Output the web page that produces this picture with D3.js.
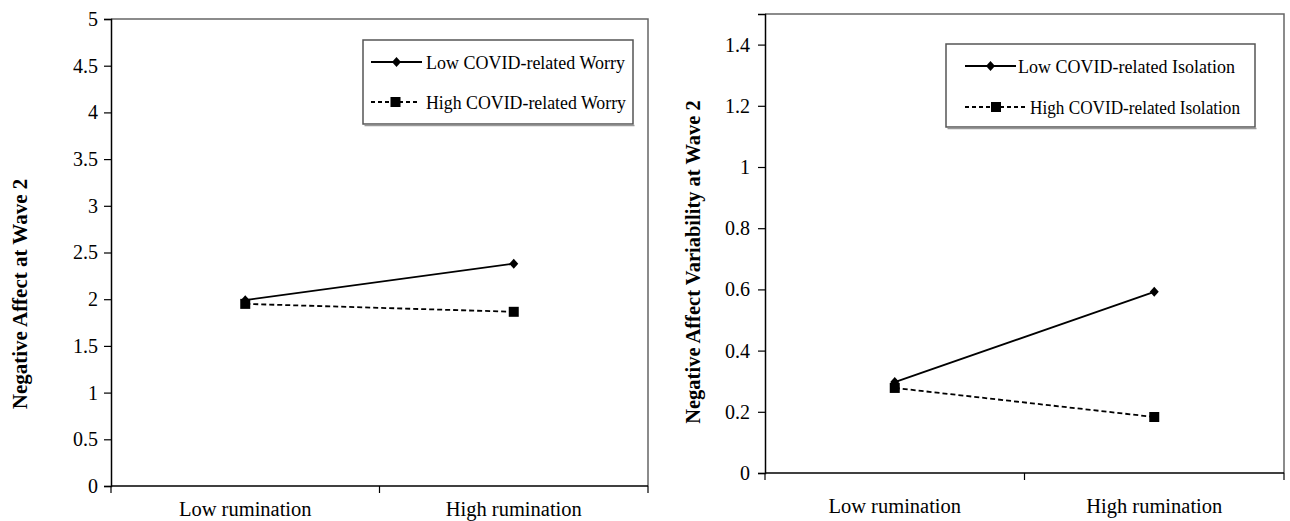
<!DOCTYPE html>
<html><head><meta charset="utf-8">
<script src="https://cdn.jsdelivr.net/npm/d3@7"></script>
<style>
html,body{margin:0;padding:0;background:#fff;}
svg{display:block;font-family:"Liberation Serif","Times New Roman",serif;}
</style></head>
<body>
<svg id="c" width="1290" height="521"></svg>
<script>
const categories = ["Low rumination", "High rumination"];
// Left panel: Negative Affect at Wave 2
const worryLow = [1.99, 2.38];
const worryHigh = [1.95, 1.865];
const worryNames = ["Low COVID-related Worry", "High COVID-related Worry"];
const leftTicks = [0, 0.5, 1, 1.5, 2, 2.5, 3, 3.5, 4, 4.5, 5];
// Right panel: Negative Affect Variability at Wave 2
const isoLow = [0.297, 0.592];
const isoHigh = [0.278, 0.183];
const isoNames = ["Low COVID-related Isolation", "High COVID-related Isolation"];
const rightTicks = [0, 0.2, 0.4, 0.6, 0.8, 1, 1.2, 1.4];

const svg = d3.select("#c");

function panel(cfg) {
  const g = svg.append("g");
  const x = d3.scaleBand().domain(categories).range([cfg.x0, cfg.x1]);
  const y = d3.scaleLinear().domain(cfg.domain).range([cfg.yb, cfg.yt]);

  // frame (top/right)
  g.append("path")
    .attr("d", `M${cfg.x0},${cfg.yt}H${cfg.x1}V${cfg.yb}`)
    .attr("fill", "none").attr("stroke", "#666").attr("stroke-width", 1.5);

  // y axis
  const ya = g.append("g").attr("transform", `translate(${cfg.x0},0)`)
    .call(d3.axisLeft(y).tickValues(cfg.ticks).tickSize(7).tickPadding(cfg.pad)
      .tickFormat(d => String(+d.toFixed(2))));
  ya.select(".domain").attr("stroke", "#000").attr("stroke-width", 1.5);
  ya.selectAll(".tick line").attr("stroke", "#000").attr("stroke-width", 1.2);
  ya.selectAll("text").attr("font-size", 20).attr("fill", "#000")
    .attr("font-family", "Liberation Serif");

  // x axis line with between-category ticks
  g.append("line").attr("x1", cfg.x0).attr("x2", cfg.x1)
    .attr("y1", cfg.yb).attr("y2", cfg.yb).attr("stroke", "#000").attr("stroke-width", 1.5);
  const edges = [cfg.x0, x(categories[1]), cfg.x1];
  g.selectAll(".xt").data(edges).enter().append("line")
    .attr("x1", d => d).attr("x2", d => d)
    .attr("y1", cfg.yb).attr("y2", cfg.yb + 7).attr("stroke", "#000").attr("stroke-width", 1.2);
  g.selectAll(".xl").data(categories).enter().append("text")
    .attr("x", d => x(d) + x.bandwidth() / 2).attr("y", cfg.xlabY)
    .attr("text-anchor", "middle").attr("font-size", 20.5).text(d => d);

  // y title
  g.append("text")
    .attr("transform", `translate(${cfg.titleX},${cfg.titleY}) rotate(-90)`)
    .attr("text-anchor", "middle").attr("font-weight", "bold")
    .attr("font-size", cfg.titleSize).text(cfg.title);

  const cx = d => x(d) + x.bandwidth() / 2;
  const series = [
    { vals: cfg.low, dash: null, marker: "diamond" },
    { vals: cfg.high, dash: "5,3", marker: "square" }
  ];
  series.forEach(s => {
    const pts = categories.map((c, i) => [cx(c), y(s.vals[i])]);
    g.append("path").attr("d", d3.line()(pts)).attr("fill", "none")
      .attr("stroke", "#000").attr("stroke-width", 1.8)
      .attr("stroke-dasharray", s.dash);
  });
  function marker(sel, type, px, py) {
    if (type === "diamond") {
      sel.append("path").attr("d", `M${px},${py-5}L${px+4.5},${py}L${px},${py+5}L${px-4.5},${py}Z`).attr("fill", "#000");
    } else {
      sel.append("rect").attr("x", px - 5).attr("y", py - 5).attr("width", 10).attr("height", 10).attr("fill", "#000");
    }
  }
  // draw high (square) markers first, then diamonds on top
  [series[1], series[0]].forEach(s => {
    categories.forEach((c, i) => marker(g, s.marker, cx(c), y(s.vals[i])));
  });

  // legend
  const L = cfg.legend;
  g.append("rect").attr("x", L.x).attr("y", L.y).attr("width", L.w).attr("height", L.h)
    .attr("fill", "#fff").attr("stroke", "#555").attr("stroke-width", 1.5);
  g.append("line").attr("x1", L.x + 1.5).attr("x2", L.x + L.w + 1.5)
    .attr("y1", L.y + L.h + 1.5).attr("y2", L.y + L.h + 1.5).attr("stroke", "#999").attr("stroke-width", 1.5);
  const rows = [
    { name: cfg.names[0], dash: null, marker: "diamond", ly: L.r1, sx1: L.s1[0], sx2: L.s1[1], tx: L.t1, tw: L.w1 },
    { name: cfg.names[1], dash: "4,3", marker: "square", ly: L.r2, sx1: L.s2[0], sx2: L.s2[1], tx: L.t2, tw: L.w2 }
  ];
  rows.forEach(r => {
    g.append("line").attr("x1", r.sx1).attr("x2", r.sx2).attr("y1", r.ly).attr("y2", r.ly)
      .attr("stroke", "#000").attr("stroke-width", 1.8).attr("stroke-dasharray", r.dash);
    marker(g, r.marker, (r.sx1 + r.sx2) / 2, r.ly);
    g.append("text").attr("x", r.tx).attr("y", r.ly + 6.5).attr("font-size", 19)
      .attr("textLength", r.tw).attr("lengthAdjust", "spacingAndGlyphs").text(r.name);
  });
}

panel({
  x0: 111, x1: 648, yt: 19, yb: 486, domain: [0, 5], ticks: leftTicks, pad: 6,
  low: worryLow, high: worryHigh, names: worryNames,
  xlabY: 516, title: "Negative Affect at Wave 2", titleX: 27, titleY: 294, titleSize: 21,
  legend: { x: 363, y: 40, w: 270, h: 84, r1: 62, r2: 102,
    s1: [371, 422], s2: [371, 420], t1: 426, t2: 426, w1: 199, w2: 200 }
});

panel({
  x0: 765, x1: 1284, yt: 14, yb: 473, domain: [0, 1.5], ticks: rightTicks, pad: 8,
  low: isoLow, high: isoHigh, names: isoNames,
  xlabY: 513, title: "Negative Affect Variability at Wave 2", titleX: 700, titleY: 262, titleSize: 20.5,
  legend: { x: 946, y: 44, w: 309, h: 83, r1: 66, r2: 107,
    s1: [965, 1016], s2: [965, 1027], t1: 1018, t2: 1030, w1: 217, w2: 210 }
});
</script>
</body></html>
